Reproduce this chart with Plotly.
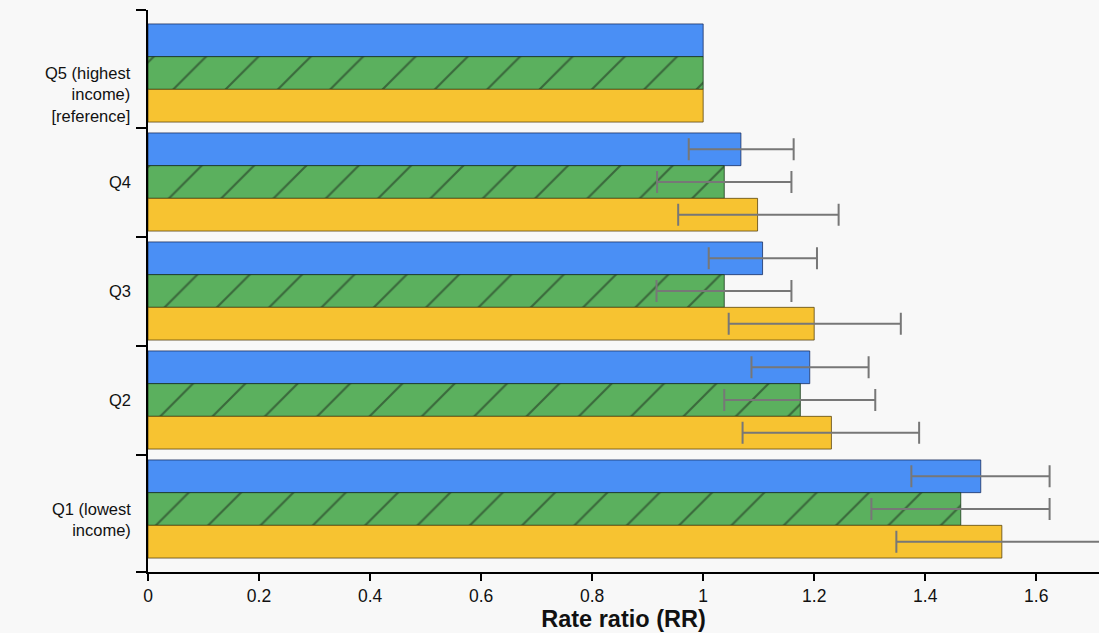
import numpy as np
import plotly.graph_objects as go

categories = ["Q5 (highest<br>income)<br>[reference]", "Q4", "Q3", "Q2", "Q1 (lowest<br>income)"]
series_names = ["Blue", "Green", "Yellow"]

nan = float("nan")
blue_rr = [1.0, 1.068, 1.107, 1.192, 1.500]
blue_lo = [nan, 0.974, 1.010, 1.087, 1.375]
blue_hi = [nan, 1.163, 1.205, 1.298, 1.624]

green_rr = [1.0, 1.038, 1.038, 1.175, 1.464]
green_lo = [nan, 0.917, 0.916, 1.038, 1.303]
green_hi = [nan, 1.159, 1.159, 1.310, 1.624]

yellow_rr = [1.0, 1.098, 1.200, 1.231, 1.538]
yellow_lo = [nan, 0.955, 1.046, 1.071, 1.348]
yellow_hi = [nan, 1.244, 1.356, 1.389, 1.760]

xticks = [0, 0.2, 0.4, 0.6, 0.8, 1.0, 1.2, 1.4, 1.6]
xtick_text = ["0", "0.2", "0.4", "0.6", "0.8", "1", "1.2", "1.4", "1.6"]

ypos = list(range(len(categories)))


def err(vals, lo, hi):
    v = np.array(vals, dtype=float)
    plus = np.array(hi, dtype=float) - v
    minus = v - np.array(lo, dtype=float)
    return dict(type="data", symmetric=False, array=plus, arrayminus=minus,
                color="#777777", thickness=2, width=11)


fig = go.Figure()
fig.add_trace(go.Bar(
    y=ypos, x=blue_rr, orientation="h", name=series_names[0],
    marker=dict(color="#4a8ff5", line=dict(color="rgba(20,40,90,0.75)", width=1)),
    error_x=err(blue_rr, blue_lo, blue_hi),
))
fig.add_trace(go.Bar(
    y=ypos, x=green_rr, orientation="h", name=series_names[1],
    marker=dict(color="#5bb05e", line=dict(color="rgba(20,50,20,0.75)", width=1),
                pattern=dict(shape="/", size=37, solidity=0.06, fgcolor="#1a221a",
                             bgcolor="#5bb05e", fillmode="overlay")),
    error_x=err(green_rr, green_lo, green_hi),
))
fig.add_trace(go.Bar(
    y=ypos, x=yellow_rr, orientation="h", name=series_names[2],
    marker=dict(color="#f7c331", line=dict(color="rgba(80,60,10,0.75)", width=1)),
    error_x=err(yellow_rr, yellow_lo, yellow_hi),
))

n = len(categories)
pad = 0.578
boundaries = [-pad + 0.001] + [i + 0.5 for i in range(n - 1)] + [n - 1 + pad - 0.001]

# category labels: first line sits on the category centre, further lines below
for yp, label in zip(ypos, categories):
    fig.add_annotation(
        x=0, xref="paper", y=yp, yref="y", text=label, showarrow=False,
        xanchor="right", yanchor="top", align="right", xshift=-15, yshift=11,
        font=dict(size=16.5, color="#111"),
    )

fig.update_layout(
    width=1099, height=633,
    margin=dict(l=148, r=0, t=10, b=61),
    paper_bgcolor="#f8f8f8", plot_bgcolor="#f8f8f8",
    barmode="group", bargap=0.1, bargroupgap=0,
    showlegend=False,
    font=dict(family="Liberation Sans, Arial, Helvetica, sans-serif", size=17.5, color="#111"),
    xaxis=dict(
        range=[0, 1.713], tickvals=xticks, ticktext=xtick_text,
        ticks="outside", ticklen=7, tickwidth=2, tickcolor="black",
        showline=True, linecolor="black", linewidth=2, showgrid=False, zeroline=False,
        title=dict(text="<b>Rate ratio (RR)</b>", font=dict(size=23.5, color="#111"), standoff=4),
        tickfont=dict(size=17.5),
    ),
    yaxis=dict(
        range=[n - 1 + pad, -pad], tickvals=ypos,
        showticklabels=False,
        ticks="", showline=True, linecolor="black", linewidth=2,
        showgrid=False, zeroline=False,
        minor=dict(tickvals=boundaries, ticks="outside", ticklen=10, tickwidth=2,
                   tickcolor="black", showgrid=False),
    ),
)

fig.write_html("out.html")
